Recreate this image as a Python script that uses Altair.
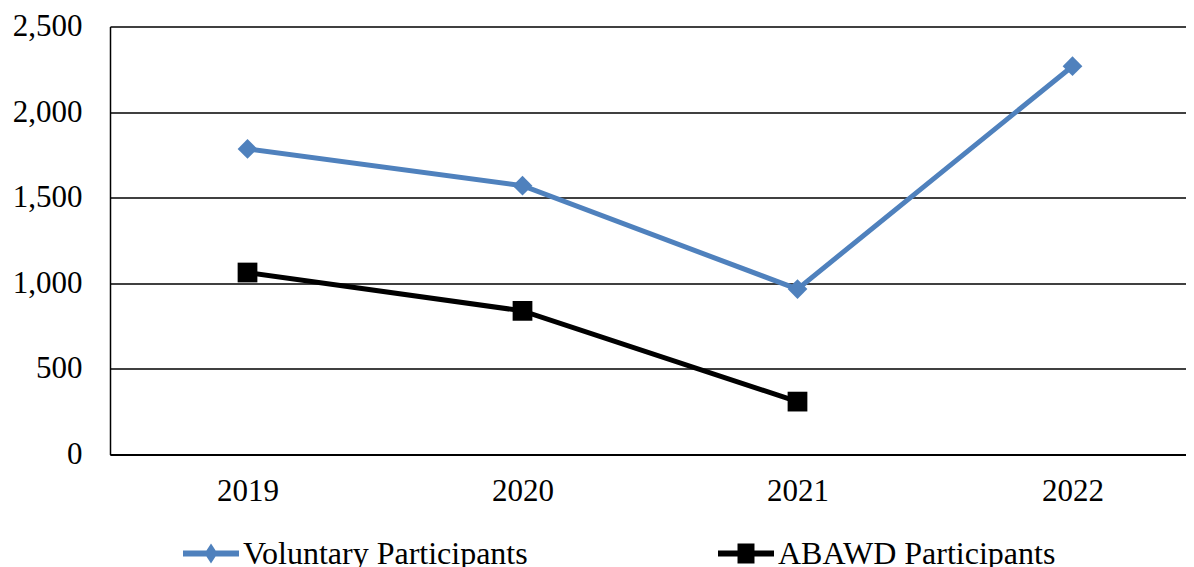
import altair as alt
import pandas as pd

years = ["2019", "2020", "2021", "2022"]
series_names = ["Voluntary Participants", "ABAWD Participants"]
voluntary = [1785, 1570, 966, 2268]
abawd = [1063, 839, 309]
colors = ["#4F81BD", "#000000"]

rows = []
for y, v in zip(years, voluntary):
    rows.append({"year": y, "series": series_names[0], "value": v})
for y, v in zip(years, abawd):
    rows.append({"year": y, "series": series_names[1], "value": v})
df = pd.DataFrame(rows)

FONT = "Liberation Serif"

x_enc = alt.X("year:O", sort=years, title=None,
              scale=alt.Scale(type="point", padding=0.4564, align=0.5478),
              axis=alt.Axis(labelAngle=0, ticks=False, tickSize=0, labelPadding=22,
                            grid=False, domainColor="#000000", domainWidth=2))
y_enc = alt.Y("value:Q", title=None,
              scale=alt.Scale(domain=[0, 2500], nice=False),
              axis=alt.Axis(values=[0, 500, 1000, 1500, 2000, 2500], format=",d",
                            ticks=False, tickSize=0, labelPadding=28,
                            grid=True, gridColor="#000000", gridWidth=1.4,
                            domainColor="#000000", domainWidth=1.5))

base = alt.Chart(df)

lines = base.mark_line(strokeWidth=5).encode(
    x=x_enc, y=y_enc,
    color=alt.Color("series:N", scale=alt.Scale(domain=series_names, range=colors), legend=None),
    detail="series:N",
)

points = base.mark_point(filled=True, opacity=1, size=390).encode(
    x=x_enc, y=y_enc,
    color=alt.Color("series:N", scale=alt.Scale(domain=series_names, range=colors), legend=None),
    shape=alt.Shape("series:N", scale=alt.Scale(domain=series_names, range=["diamond", "square"]), legend=None),
)

# legend glyphs: a line with the series marker drawn by thick strokes
leg_diamond = "M-1,0H1M0,-0.161L0.104,0L0,0.161L-0.104,0Z"
leg_square = "M-1,0H1M-0.196,-0.25H0.196V0.25H-0.196ZM0,-0.15V0.15"


def make_legend(x, symbol, **extra):
    kw = dict(orient="none", legendX=x, legendY=496, direction="horizontal",
              symbolType=symbol, symbolSize=3136, symbolStrokeWidth=6, symbolOpacity=1,
              labelFont=FONT, labelFontSize=32, labelColor="#000000",
              labelLimit=1000, labelOffset=1, padding=0, title=None)
    kw.update(extra)
    return alt.Legend(**kw)


legend_vol = base.transform_filter(alt.datum.series == series_names[0]).mark_point(
    filled=False, opacity=0).encode(
    x=x_enc, y=y_enc,
    stroke=alt.Stroke("series:N", scale=alt.Scale(domain=[series_names[0]], range=[colors[0]]),
                      title=None, legend=make_legend(70, leg_diamond)),
)

legend_ab = base.transform_filter(alt.datum.series == series_names[1]).mark_point(
    filled=True, opacity=0).encode(
    x=x_enc, y=y_enc,
    fill=alt.Fill("series:N", scale=alt.Scale(domain=[series_names[1]], range=[colors[1]]),
                  title=None, legend=make_legend(605, leg_square, symbolStrokeColor=colors[1],
                                                 symbolFillColor=colors[1])),
)

chart = alt.layer(lines, points, legend_vol, legend_ab).properties(
    width=1076, height=428,
    autosize=alt.AutoSizeParams(type="none"),
    padding={"left": 102, "top": 18.5, "right": 0, "bottom": 112.5},
    background="#ffffff",
).configure_view(strokeWidth=0).configure_axis(
    labelFont=FONT, labelFontSize=31, labelColor="#000000",
)

chart.save("out.html", embed_options={"renderer": "svg", "actions": False})
